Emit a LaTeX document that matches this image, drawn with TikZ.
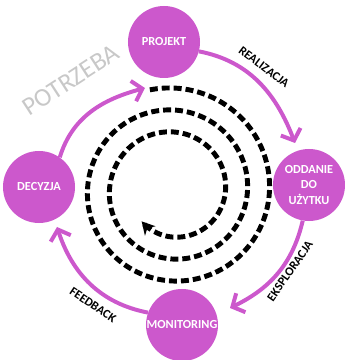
\documentclass[tikz,border=0pt]{standalone}
\usepackage{fontspec}
\setmainfont{Carlito}
\usetikzlibrary{arrows.meta}

\definecolor{fuksja}{RGB}{204,88,204}
\definecolor{szary}{RGB}{200,200,200}

\begin{document}
\begin{tikzpicture}[
x=0.03cm,
y=0.03cm,
etap/.style={
circle,
fill=fuksja,
minimum size=2.16cm,
inner sep=0pt,
text=white,
align=center,
font=\bfseries\fontsize{10.5}{13.5}\selectfont
},
strzalka/.style={
draw=fuksja,
line width=3.4pt,
-{Straight Barb[length=8pt,width=18pt]}
},
opis/.style={
font=\bfseries\fontsize{10.5}{11}\selectfont
}
]

\useasboundingbox (0,0) rectangle (345,360);

% Spirala przerywana
\draw[
black,
line width=4.2pt,
dash pattern=on 6.8pt off 3.4pt,
-{Stealth[length=11pt,width=12pt]}
]
plot[domain=103:-855, samples=240, smooth, variable=\t]
({173+(102+(\t-90)*0.061)*cos(\t)}, {170+(102+(\t-90)*0.061)*sin(\t)});

% Etapy cyklu
\node[etap] (projekt) at (164,318) {PROJEKT};
\node[etap] (oddanie) at (309,175) {ODDANIE\\DO\\UŻYTKU};
\node[etap] (monitoring) at (182,35) {MONITORING};
\node[etap] (decyzja) at (39,173) {DECYZJA};

% Konce strzalek
\coordinate (grotProjekt) at (145,272);
\coordinate (grotOddanie) at (295,217);
\coordinate (grotMonitoring) at (230,52);
\coordinate (grotDecyzja) at (57,133);

% Strzalki
\draw[strzalka] (decyzja.55) to[out=73, in=195] (grotProjekt);
\draw[strzalka] (projekt.-15) to[out=-11, in=111] (grotOddanie);
\draw[strzalka] (oddanie.-100) to[out=-103, in=26] (grotMonitoring);
\draw[strzalka] (monitoring.160) to[out=169, in=-72] (grotDecyzja);

% Opisy
\node[opis, rotate=-37] (realizacja) at (264,293) {REALIZACJA};
\node[opis, rotate=55] (eksploracja) at (290,89) {EKSPLORACJA};
\node[opis, rotate=-34] (feedback) at (93,55) {FEEDBACK};
\node[
text=szary,
rotate=33,
font=\fontsize{22}{24}\selectfont
] (potrzeba) at (71,280) {POTRZEBA};

\end{tikzpicture}
\end{document}
